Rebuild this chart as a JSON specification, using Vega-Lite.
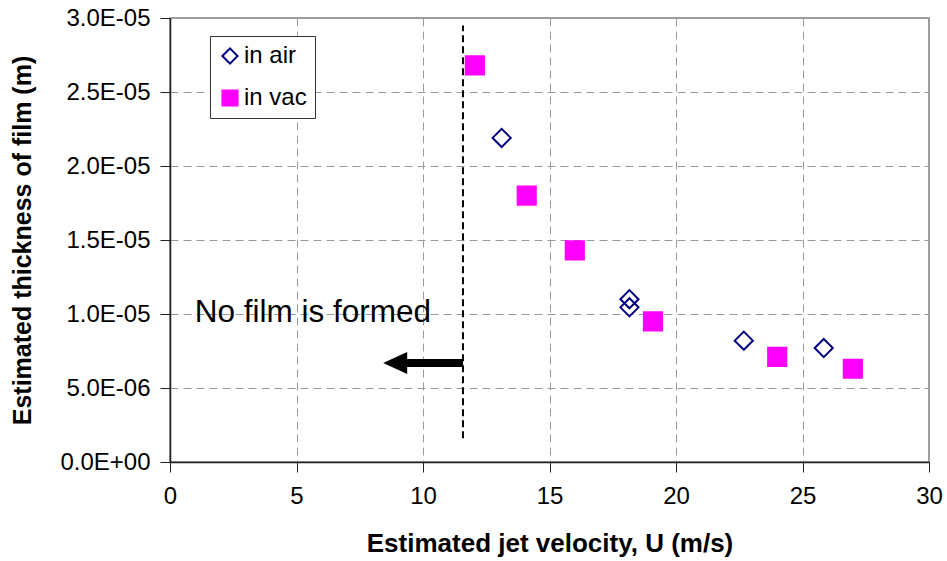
{
  "$schema": "https://vega.github.io/schema/vega-lite/v6.json",
  "width": 759,
  "height": 444,
  "autosize": {"type": "none"},
  "padding": {"left": 170, "top": 18, "right": 18, "bottom": 99},
  "background": "white",
  "config": {
    "view": {"stroke": "#7f7f7f", "strokeWidth": 1.5},
    "font": "Liberation Sans",
    "axis": {
      "labelFont": "Liberation Sans",
      "labelFontSize": 24,
      "labelColor": "black",
      "titleFont": "Liberation Sans",
      "titleFontSize": 25,
      "titleFontWeight": "bold",
      "titleColor": "black",
      "domainColor": "#202020",
      "domainWidth": 1.5,
      "tickColor": "#202020",
      "tickWidth": 1,
      "tickSize": 10,
      "gridColor": "#9a9a9a",
      "gridDash": [8, 5],
      "gridWidth": 1
    }
  },
  "encoding": {
    "x": {
      "field": "U",
      "type": "quantitative",
      "scale": {"domain": [0, 30], "nice": false, "zero": false},
      "axis": {
        "title": "Estimated jet velocity, U (m/s)",
        "titleFontSize": 26,
        "values": [0, 5, 10, 15, 20, 25, 30],
        "labelPadding": 12,
        "titlePadding": 22,
        "labelFlush": false
      }
    },
    "y": {
      "field": "t",
      "type": "quantitative",
      "scale": {"domain": [0, 0.00003], "nice": false, "zero": false},
      "axis": {
        "title": "Estimated thickness of film (m)",
        "values": [0, 0.000005, 0.00001, 0.000015, 0.00002, 0.000025, 0.00003],
        "labelExpr": "datum.value == 0 ? '0.0E+00' : (datum.value < 0.0000099 ? format(datum.value * 1000000, '.1f') + 'E-06' : format(datum.value * 100000, '.1f') + 'E-05')",
        "labelPadding": 10,
        "titlePadding": 24,
        "labelFlush": false
      }
    }
  },
  "layer": [
    {
      "data": {"values": [{"U": 11.58, "t": 0.0000016, "t2": 0.0000295}]},
      "mark": {"type": "rule", "color": "black", "strokeWidth": 2, "strokeDash": [7, 4]},
      "encoding": {"y2": {"field": "t2"}}
    },
    {
      "data": {"values": [{"U": 9.2, "U2": 11.58, "t": 0.00000669}]},
      "mark": {"type": "rule", "color": "black", "strokeWidth": 8, "strokeCap": "butt"},
      "encoding": {"x2": {"field": "U2"}}
    },
    {
      "data": {"values": [{"U": 8.9, "t": 0.00000669}]},
      "mark": {"type": "point", "shape": "M-1,0L1,-0.917L1,0.917Z", "size": 576, "filled": true, "color": "black", "opacity": 1, "strokeWidth": 0}
    },
    {
      "data": {"values": [{"U": 0.98, "t": 0.00000946, "label": "No film is formed"}]},
      "mark": {"type": "text", "align": "left", "baseline": "alphabetic", "fontSize": 31.5, "font": "Liberation Sans", "color": "black"},
      "encoding": {"text": {"field": "label"}}
    },
    {
      "data": {
        "values": [
          {"series": "in air", "U": 13.11, "t": 0.0000219},
          {"series": "in air", "U": 18.16, "t": 0.0000110},
          {"series": "in air", "U": 18.16, "t": 0.00001045},
          {"series": "in air", "U": 22.68, "t": 0.0000082},
          {"series": "in air", "U": 25.84, "t": 0.0000077},
          {"series": "in vac", "U": 12.05, "t": 0.0000268},
          {"series": "in vac", "U": 14.1, "t": 0.0000180},
          {"series": "in vac", "U": 16.0, "t": 0.0000143},
          {"series": "in vac", "U": 19.09, "t": 0.0000095},
          {"series": "in vac", "U": 24.0, "t": 0.0000071},
          {"series": "in vac", "U": 26.99, "t": 0.0000063}
        ]
      },
      "mark": {"type": "point", "size": 330, "strokeWidth": 2, "opacity": 1},
      "encoding": {
        "shape": {
          "field": "series",
          "type": "nominal",
          "scale": {"domain": ["in air", "in vac"], "range": ["diamond", "square"]},
          "legend": {
            "title": null,
            "orient": "none",
            "legendX": 40,
            "legendY": 18,
            "strokeColor": "#333333",
            "fillColor": "white",
            "padding": 8,
            "symbolSize": 230,
            "symbolStrokeWidth": 2,
            "labelFont": "Liberation Sans",
            "labelFontSize": 24,
            "labelColor": "black",
            "labelOffset": 2,
            "rowPadding": 18
          }
        },
        "fill": {
          "field": "series",
          "type": "nominal",
          "scale": {"domain": ["in air", "in vac"], "range": ["transparent", "#FF00FF"]}
        },
        "stroke": {
          "field": "series",
          "type": "nominal",
          "scale": {"domain": ["in air", "in vac"], "range": ["#000080", "#FF00FF"]}
        }
      }
    }
  ]
}
